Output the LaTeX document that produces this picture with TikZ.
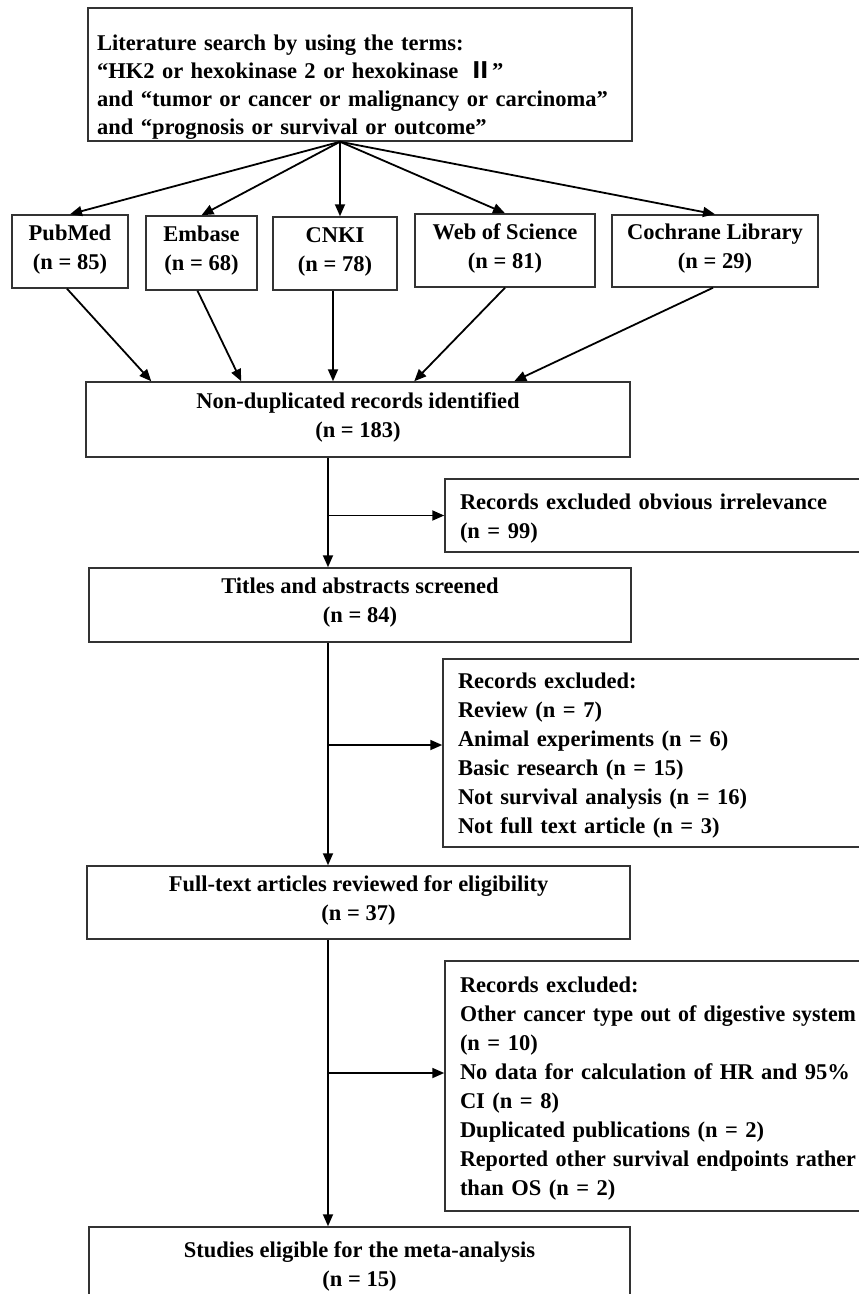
\documentclass[tikz,border=0pt]{standalone}
\usepackage{fontspec}
\usepackage{graphicx}
\setmainfont{Liberation Serif}
\newfontfamily\cjk{Noto Sans CJK SC}
\usetikzlibrary{arrows.meta}
\newsavebox\fitbox
\newcommand\fitline[1]{\sbox\fitbox{#1}\ifdim\wd\fitbox>396pt\resizebox{396pt}{\height}{#1}\else\makebox[396pt][s]{#1}\fi}
\begin{document}
\begin{tikzpicture}[x=1pt,y=-1pt,
  txtfont/.style={font=\fontsize{22.5}{29}\selectfont\bfseries},
  box/.style={draw=black!80, line width=1.5pt, inner sep=0pt, align=center, txtfont,
    execute at begin node={\rule{0pt}{25pt}}, execute at end node=\strut},
  exbox/.style={box, text width=400pt, align=left, minimum width=430pt},
  arr/.style={-{Triangle[length=12pt,width=10pt]}, line width=1.8pt, black}]
\useasboundingbox (0,0) rectangle (859,1294);
\clip (0,0) rectangle (859,1294);
\fill[white] (0,0) rectangle (859,1294);

% top box
\node[box, minimum width=544pt, minimum height=133pt, text width=526pt, align=left,
  font=\fontsize{22.5}{28}\selectfont\bfseries, execute at begin node={}, execute at end node={},
  text height=42.7pt, text depth=90.3pt] (top) at (360,74.5)
  {Literature search by using the terms:\\
   “HK2 or hexokinase 2 or hexokinase\, {\cjk Ⅱ}”\\
   and “tumor or cancer or malignancy or carcinoma”\\
   and “prognosis or survival or outcome”};

% databases
\node[box, minimum width=116pt, minimum height=73pt] (pubmed) at (70,251.5) {PubMed\\(n = 85)};
\node[box, minimum width=111pt, minimum height=74pt] (embase) at (201.5,253) {Embase\\(n = 68)};
\node[box, minimum width=124pt, minimum height=73pt] (cnki) at (335,253.5) {CNKI\\(n = 78)};
\node[box, minimum width=180pt, minimum height=73pt] (wos) at (505,250.5) {Web of Science\\(n = 81)};
\node[box, minimum width=206pt, minimum height=72pt] (cochrane) at (715,251) {Cochrane Library\\(n = 29)};

% main column
\node[box, minimum width=544pt, minimum height=75pt] (nondup) at (358,419.5) {Non-duplicated records identified\\(n = 183)};
\node[box, minimum width=542pt, minimum height=74pt] (titles) at (360,605) {Titles and abstracts screened\\(n = 84)};
\node[box, minimum width=543pt, minimum height=73pt] (fulltext) at (358.5,902.5) {Full-text articles reviewed for eligibility\\(n = 37)};
\node[box, minimum width=541pt, minimum height=82pt] (final) at (359.5,1268) {Studies eligible for the meta-analysis\\(n = 15)};

% exclusion boxes
\node[exbox, minimum height=73pt] (ex1) at (660,515.5) {Records excluded obvious irrelevance\\(n = 99)};
\node[exbox, minimum height=188pt] (ex2) at (658,753) {Records excluded:\\Review (n = 7)\\Animal experiments (n = 6)\\Basic research (n = 15)\\Not survival analysis (n = 16)\\Not full text article (n = 3)};
\node[exbox, minimum height=250pt] (ex3) at (660,1086) {Records excluded:\\
  \fitline{Other cancer type out of digestive system}\\(n = 10)\\
  \fitline{No data for calculation of HR and 95\%}\\CI (n = 8)\\
  Duplicated publications (n = 2)\\
  \fitline{Reported other survival endpoints rather}\\than OS (n = 2)};

% arrows from search box
\coordinate (apex) at ([xshift=-20pt]top.south);
\draw[arr] (apex) -- (pubmed.north);
\draw[arr] (apex) -- (embase.north);
\draw[arr] (apex) -- (apex |- cnki.north);
\draw[arr] (apex) -- (wos.north);
\draw[arr] (apex) -- (cochrane.north);

% arrows to non-duplicated
\draw[arr] ([xshift=-3pt]pubmed.south) -- ([xshift=66pt]nondup.north west);
\draw[arr] ([xshift=-4pt]embase.south) -- ([xshift=156pt]nondup.north west);
\draw[arr] ([xshift=-2pt]cnki.south) -- ([xshift=-2pt]cnki.south |- nondup.north);
\draw[arr] (wos.south) -- ([xshift=329pt]nondup.north west);
\draw[arr] ([xshift=-2pt]cochrane.south) -- ([xshift=429pt]nondup.north west);

% main flow
\coordinate (s1) at ([xshift=-30pt]nondup.south);
\draw[arr] (s1) -- (s1 |- titles.north);
\draw[arr] (s1 |- ex1.west) -- (ex1.west);

\coordinate (s2) at (s1 |- titles.south);
\coordinate (e2) at ([yshift=8pt]ex2.west);
\draw[arr] (s2) -- (s2 |- fulltext.north);
\draw[arr] (s2 |- e2) -- (e2);

\coordinate (s3) at (s1 |- fulltext.south);
\coordinate (e3) at ([yshift=13pt]ex3.west);
\draw[arr] (s3) -- (s3 |- final.north);
\draw[arr] (s3 |- e3) -- (e3);
\end{tikzpicture}
\end{document}
